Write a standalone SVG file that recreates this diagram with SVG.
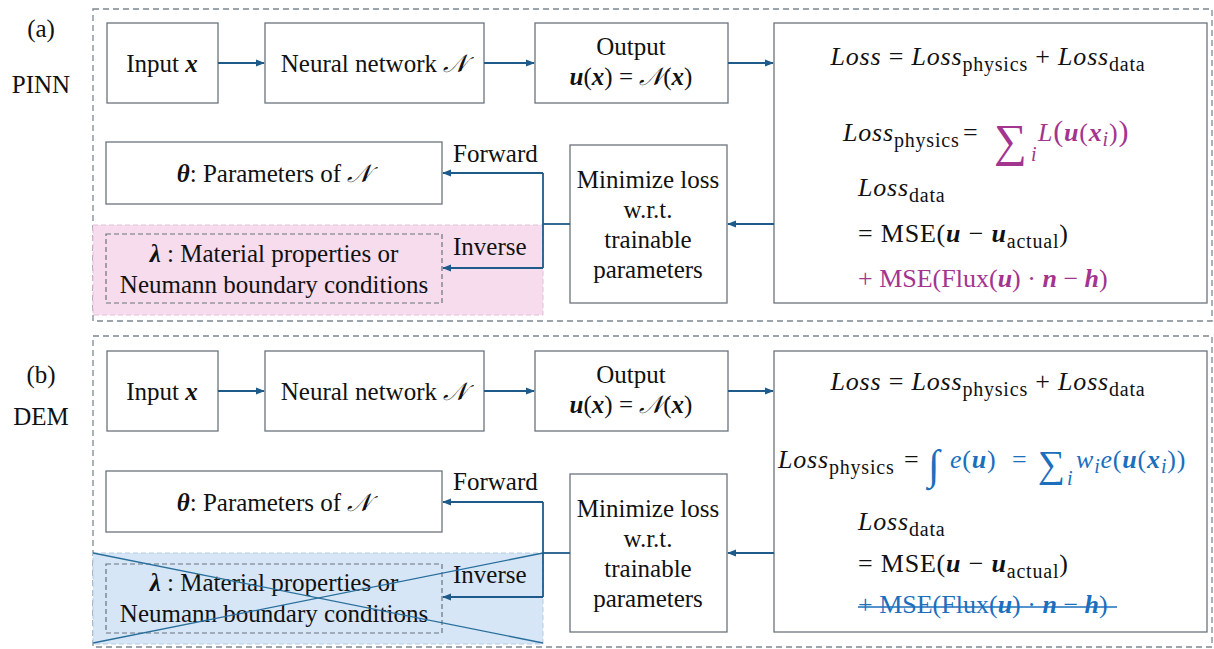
<svg xmlns="http://www.w3.org/2000/svg" width="1214" height="649" viewBox="0 0 1214 649">
<style>
.t{font-family:"Liberation Serif","Times New Roman",serif;font-size:25px;fill:#111}
.m{font-size:26px;letter-spacing:0.8px}
.m0{font-size:26px}
.c{text-anchor:middle}
.bi{font-weight:bold;font-style:italic}
.it{font-style:italic}
.sub{font-size:20px}
.op{font-family:"Liberation Serif","DejaVu Serif",serif}
.box{fill:#fff;stroke:#6b737c;stroke-width:1.3}
.outer{fill:none;stroke:#7d8891;stroke-width:1.3;stroke-dasharray:6 4}
.dbox{fill:none;stroke:#6b737c;stroke-width:1.2;stroke-dasharray:5 3}
.con{fill:none;stroke:#1f5b8a;stroke-width:1.8}
.pur{fill:#a3358f}
.blu{fill:#1c6fbd}
</style>
<defs>
<marker id="ah" viewBox="0 0 10 10" refX="9" refY="5" markerWidth="5" markerHeight="5" orient="auto-start-reverse">
<path d="M0,1 L10,5 L0,9 z" fill="#1f5b8a"/>
</marker>
</defs>

<rect x="0" y="0" width="1214" height="649" fill="#fff"/>
<rect class="outer" x="93" y="9" width="1119" height="312"/>
<rect class="outer" x="93" y="336" width="1119" height="311"/>
<rect x="93" y="225" width="450" height="90" fill="#f6dcec" stroke="#e6bcd6" stroke-width="1" stroke-dasharray="5 3"/>
<rect x="93" y="553" width="450" height="91" fill="#d6e6f6" stroke="#b4cbe3" stroke-width="1" stroke-dasharray="5 3"/>

<g id="labels">
<text class="t c" x="41" y="37">(a)</text>
<text class="t c" x="41" y="93">PINN</text>
<text class="t c" x="41" y="383">(b)</text>
<text class="t c" x="41" y="425">DEM</text>
</g>

<!-- (a) PINN -->
<g id="a-input"><rect class="box" x="107" y="23" width="111" height="80"/>
<text class="t c" x="162" y="72">Input <tspan class="bi">x</tspan></text></g>
<g id="a-nn"><rect class="box" x="265" y="23" width="219" height="80"/>
<text class="t c" x="374" y="72">Neural network <tspan class="it">𝒩</tspan></text></g>
<g id="a-output"><rect class="box" x="535" y="23" width="193" height="80"/>
<text class="t c" x="631" y="55">Output</text>
<text class="t c" x="631" y="85"><tspan class="bi">u</tspan>(<tspan class="bi">x</tspan>) = <tspan class="it">𝒩</tspan>(<tspan class="bi">x</tspan>)</text></g>
<g id="a-loss"><rect class="box" x="774" y="23" width="433" height="280"/>
<text class="t m c" x="988" y="65"><tspan class="it">Loss</tspan> = <tspan class="it">Loss</tspan><tspan class="sub" dy="6">physics</tspan><tspan dy="-6"> + </tspan><tspan class="it">Loss</tspan><tspan class="sub" dy="6">data</tspan></text>
<text class="t m" x="843" y="141"><tspan class="it">Loss</tspan><tspan class="sub" dy="6">physics</tspan></text>
<text class="t m0" x="963" y="141">=</text>
<text class="t op pur" x="994" y="156" style="font-size:46px">∑</text>
<text class="t it sub pur" x="1031" y="161">i</text>
<text class="t m pur" x="1038" y="141"><tspan class="it">L</tspan><tspan style="font-size:30px">(</tspan><tspan class="bi">u</tspan>(<tspan class="bi">x</tspan><tspan class="it sub" dy="5">i</tspan><tspan dy="-5">)</tspan><tspan style="font-size:30px">)</tspan></text>
<text class="t m" x="858" y="196"><tspan class="it">Loss</tspan><tspan class="sub" dy="6">data</tspan></text>
<text class="t m" x="858" y="242">= MSE(<tspan class="bi">u</tspan> − <tspan class="bi">u</tspan><tspan class="sub" dy="6">actual</tspan><tspan dy="-6">)</tspan></text>
<text class="t m0 pur" x="858" y="287">+ MSE(Flux(<tspan class="bi">u</tspan>) · <tspan class="bi">n</tspan> − <tspan class="bi">h</tspan>)</text></g>
<g id="a-min"><rect class="box" x="570" y="145" width="157" height="158"/>
<text class="t c" x="648" y="188">Minimize loss</text>
<text class="t c" x="648" y="218">w.r.t.</text>
<text class="t c" x="648" y="248">trainable</text>
<text class="t c" x="648" y="278">parameters</text></g>
<g id="a-theta"><rect class="box" x="106" y="142" width="336" height="62"/>
<text class="t c" x="274" y="182"><tspan class="bi">θ</tspan>: Parameters of <tspan class="it">𝒩</tspan></text></g>
<g id="a-lambda"><rect class="dbox" x="106" y="234" width="336" height="69"/>
<text class="t c" x="274" y="262"><tspan class="bi">λ</tspan> : Material properties or</text>
<text class="t c" x="274" y="293">Neumann boundary conditions</text></g>
<text class="t" x="453" y="162">Forward</text>
<text class="t" x="453" y="255">Inverse</text>

<!-- (b) DEM -->
<g id="b-input"><rect class="box" x="107" y="351" width="111" height="80"/>
<text class="t c" x="162" y="400">Input <tspan class="bi">x</tspan></text></g>
<g id="b-nn"><rect class="box" x="265" y="351" width="219" height="80"/>
<text class="t c" x="374" y="400">Neural network <tspan class="it">𝒩</tspan></text></g>
<g id="b-output"><rect class="box" x="535" y="351" width="193" height="80"/>
<text class="t c" x="631" y="383">Output</text>
<text class="t c" x="631" y="413"><tspan class="bi">u</tspan>(<tspan class="bi">x</tspan>) = <tspan class="it">𝒩</tspan>(<tspan class="bi">x</tspan>)</text></g>
<g id="b-loss"><rect class="box" x="774" y="351" width="433" height="281"/>
<text class="t m c" x="988" y="390"><tspan class="it">Loss</tspan> = <tspan class="it">Loss</tspan><tspan class="sub" dy="6">physics</tspan><tspan dy="-6"> + </tspan><tspan class="it">Loss</tspan><tspan class="sub" dy="6">data</tspan></text>
<text class="t m" x="778" y="468"><tspan class="it">Loss</tspan><tspan class="sub" dy="6">physics</tspan></text>
<text class="t m0" x="904" y="468">=</text>
<text class="t op blu" x="928" y="479" style="font-size:42px">∫</text>
<text class="t m blu" x="950" y="468"><tspan class="it">e</tspan>(<tspan class="bi">u</tspan>)</text>
<text class="t m0 blu" x="1012" y="468">=</text>
<text class="t op blu" x="1038" y="477" style="font-size:38px">∑</text>
<text class="t it sub blu" x="1067" y="485">i</text>
<text class="t m blu" x="1076" y="468"><tspan class="it">w</tspan><tspan class="it sub" dy="5">i</tspan><tspan class="it" dy="-5">e</tspan>(<tspan class="bi">u</tspan>(<tspan class="bi">x</tspan><tspan class="it sub" dy="5">i</tspan><tspan dy="-5">))</tspan></text>
<text class="t m" x="858" y="530"><tspan class="it">Loss</tspan><tspan class="sub" dy="6">data</tspan></text>
<text class="t m" x="858" y="572">= MSE(<tspan class="bi">u</tspan> − <tspan class="bi">u</tspan><tspan class="sub" dy="6">actual</tspan><tspan dy="-6">)</tspan></text>
<text class="t m0 blu" x="858" y="613">+ MSE(Flux(<tspan class="bi">u</tspan>) · <tspan class="bi">n</tspan> − <tspan class="bi">h</tspan>)</text>
<line x1="858" y1="607" x2="1117" y2="607" stroke="#1c6fbd" stroke-width="1.6"/></g>
<g id="b-min"><rect class="box" x="570" y="474" width="157" height="158"/>
<text class="t c" x="648" y="517">Minimize loss</text>
<text class="t c" x="648" y="547">w.r.t.</text>
<text class="t c" x="648" y="577">trainable</text>
<text class="t c" x="648" y="607">parameters</text></g>
<g id="b-theta"><rect class="box" x="106" y="471" width="336" height="61"/>
<text class="t c" x="274" y="511"><tspan class="bi">θ</tspan>: Parameters of <tspan class="it">𝒩</tspan></text></g>
<g id="b-lambda"><rect class="dbox" x="106" y="564" width="336" height="69"/>
<text class="t c" x="274" y="591"><tspan class="bi">λ</tspan> : Material properties or</text>
<text class="t c" x="274" y="622">Neumann boundary conditions</text></g>
<text class="t" x="453" y="490">Forward</text>
<text class="t" x="453" y="583">Inverse</text>
<g id="b-cross" stroke="#2a6f9c" stroke-width="1.3">
<line x1="93" y1="553" x2="543" y2="643"/>
<line x1="93" y1="643" x2="543" y2="553"/>
</g>

<g id="connectors">
<line class="con" x1="218" y1="63" x2="264" y2="63" marker-end="url(#ah)"/>
<line class="con" x1="484" y1="63" x2="534" y2="63" marker-end="url(#ah)"/>
<line class="con" x1="728" y1="63" x2="773" y2="63" marker-end="url(#ah)"/>
<line class="con" x1="774" y1="224" x2="728" y2="224" marker-end="url(#ah)"/>
<path class="con" d="M570,224 H543"/>
<path class="con" d="M543,173 V268"/>
<line class="con" x1="543" y1="173" x2="443" y2="173" marker-end="url(#ah)"/>
<line class="con" x1="543" y1="268" x2="443" y2="268" marker-end="url(#ah)"/>
<line class="con" x1="218" y1="391" x2="264" y2="391" marker-end="url(#ah)"/>
<line class="con" x1="484" y1="391" x2="534" y2="391" marker-end="url(#ah)"/>
<line class="con" x1="728" y1="391" x2="773" y2="391" marker-end="url(#ah)"/>
<line class="con" x1="774" y1="553" x2="728" y2="553" marker-end="url(#ah)"/>
<path class="con" d="M570,553 H543"/>
<path class="con" d="M543,502 V597"/>
<line class="con" x1="543" y1="502" x2="443" y2="502" marker-end="url(#ah)"/>
<line class="con" x1="543" y1="597" x2="443" y2="597" marker-end="url(#ah)"/>
</g>
</svg>
